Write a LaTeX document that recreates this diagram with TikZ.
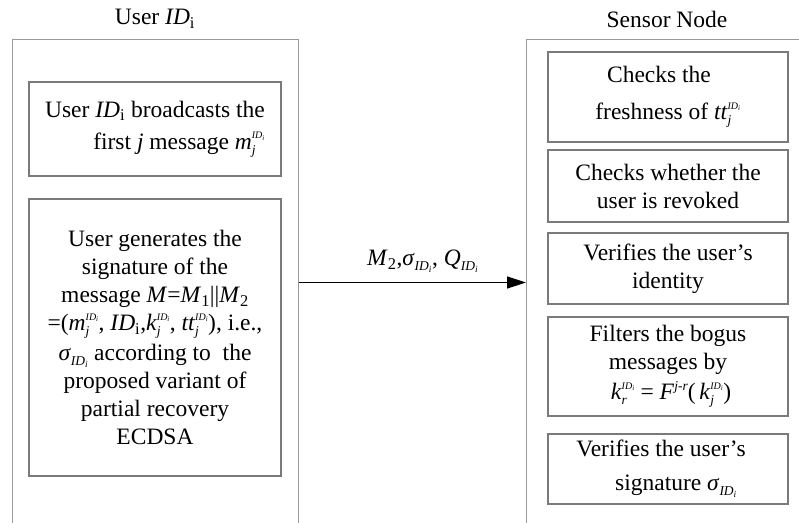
\documentclass[tikz,border=0pt]{standalone}
\usepackage{fontspec}
\setmainfont{Liberation Serif}
\usetikzlibrary{arrows.meta}

% script sizes used in indices
\newcommand\supsize{\fontsize{10}{10}\selectfont}
\newcommand\subsize{\fontsize{13.5}{14}\selectfont}
\newsavebox\supbox
\newsavebox\subbox
% italic variable with stacked italic subscript and superscript
\newcommand\vsubsup[3]{\textit{#1}%
  \sbox\supbox{\supsize\itshape #3}\sbox\subbox{\subsize\itshape #2}%
  \rlap{\raisebox{10.5pt}{\usebox\supbox}}\rlap{\raisebox{-5pt}{\usebox\subbox}}%
  \kern\ifdim\wd\supbox>\wd\subbox\wd\supbox\else\wd\subbox\fi\relax}
% italic variable with italic subscript
\newcommand\vsub[2]{\textit{#1}\raisebox{-5pt}{\subsize\itshape #2}}
% italic variable with italic superscript
\newcommand\vsup[2]{\textit{#1}\raisebox{9pt}{\subsize\itshape #2}}
% identity index ID_i
\newcommand\IDi{\textit{ID}\textsubscript{i}}
\newcommand\IDs{ID\textsubscript{i}}

\tikzset{
  lbl/.style={font=\fontsize{23.5}{28}\selectfont, inner sep=0pt},
  outbox/.style={draw=black!40, line width=1.3pt, inner sep=0pt},
  inbox/.style={draw=black!52, line width=1.2pt, align=center,
    font=\fontsize{23.5}{28}\selectfont, inner sep=0pt},
  msgarrow/.style={draw=black, line width=1.4pt,
    -{Triangle[length=19pt,width=12pt]}},
}

\begin{document}
\begin{tikzpicture}[x=1pt,y=-1pt]
\useasboundingbox (0,0) rectangle (799,522);
\clip (0,0) rectangle (799,522);

% participant frames (open below / to the right)
\node[outbox, anchor=north west, minimum width=286pt, minimum height=520pt] (user) at (12,39) {};
\node[outbox, anchor=north west, minimum width=320pt, minimum height=520pt] (sensor) at (526,39) {};

% headings
\node[lbl] (usertitle) at (155,19) {User \IDi};
\node[lbl] (sensortitle) at (667,19) {Sensor Node};

% user steps
\node[inbox, align=right, minimum width=252pt, minimum height=94pt] (u1) at (155,129)
  {User \IDi{} broadcasts the\\[4pt] first \textit{j} message \vsubsup{m}{j}{\IDs}};
\node[inbox, minimum width=252pt, minimum height=277pt] (u2) at (155,337.5)
  {User generates the\\
   signature of the\\
   message \textit{M}=\textit{M}\textsubscript{1}||\textit{M}\textsubscript{2}\\
   =(\vsubsup{m}{j}{\IDs}, \IDi,\vsubsup{k}{j}{\IDs}, \vsubsup{tt}{j}{\IDs}), i.e.,\\[2pt]
   \vsub{σ}{\IDs} according to\ \ the\hspace*{36pt}\\
   proposed variant of\\
   partial recovery\\
   ECDSA};

% sensor node steps
\node[inbox, minimum width=240pt, minimum height=90pt] (s1) at (668,97)
  {Checks the\hspace*{18pt}\\[9pt] freshness of \vsubsup{tt}{j}{\IDs}};
\node[inbox, minimum width=240pt, minimum height=72pt] (s2) at (668,186)
  {Checks whether the\\ user is revoked};
\node[inbox, minimum width=240pt, minimum height=71pt] (s3) at (668,268.5)
  {Verifies the user’s\\ identity};
\node[inbox, minimum width=240pt, minimum height=99pt] (s4) at (668,366.5)
  {Filters the bogus\\ messages by\\[2pt]
   \hspace*{6pt}\vsubsup{k}{r}{\IDs} = \vsup{F}{j-r}(\,\vsubsup{k}{j}{\IDs})};
\node[inbox, minimum width=240pt, minimum height=70pt] (s5) at (668,469)
  {Verifies the user’s\hspace*{14pt}\\[6pt] \hspace*{16pt}signature \vsub{σ}{\IDs}};

% transmitted message
\coordinate (msglevel) at (412,282.5);
\draw[msgarrow] (user.east |- msglevel) -- node[lbl, above=9pt, xshift=10pt] (msg)
  {\textit{M}\textsubscript{2},\vsub{σ}{\IDs}, \vsub{Q}{\IDs}} (sensor.west |- msglevel);
\end{tikzpicture}
\end{document}
